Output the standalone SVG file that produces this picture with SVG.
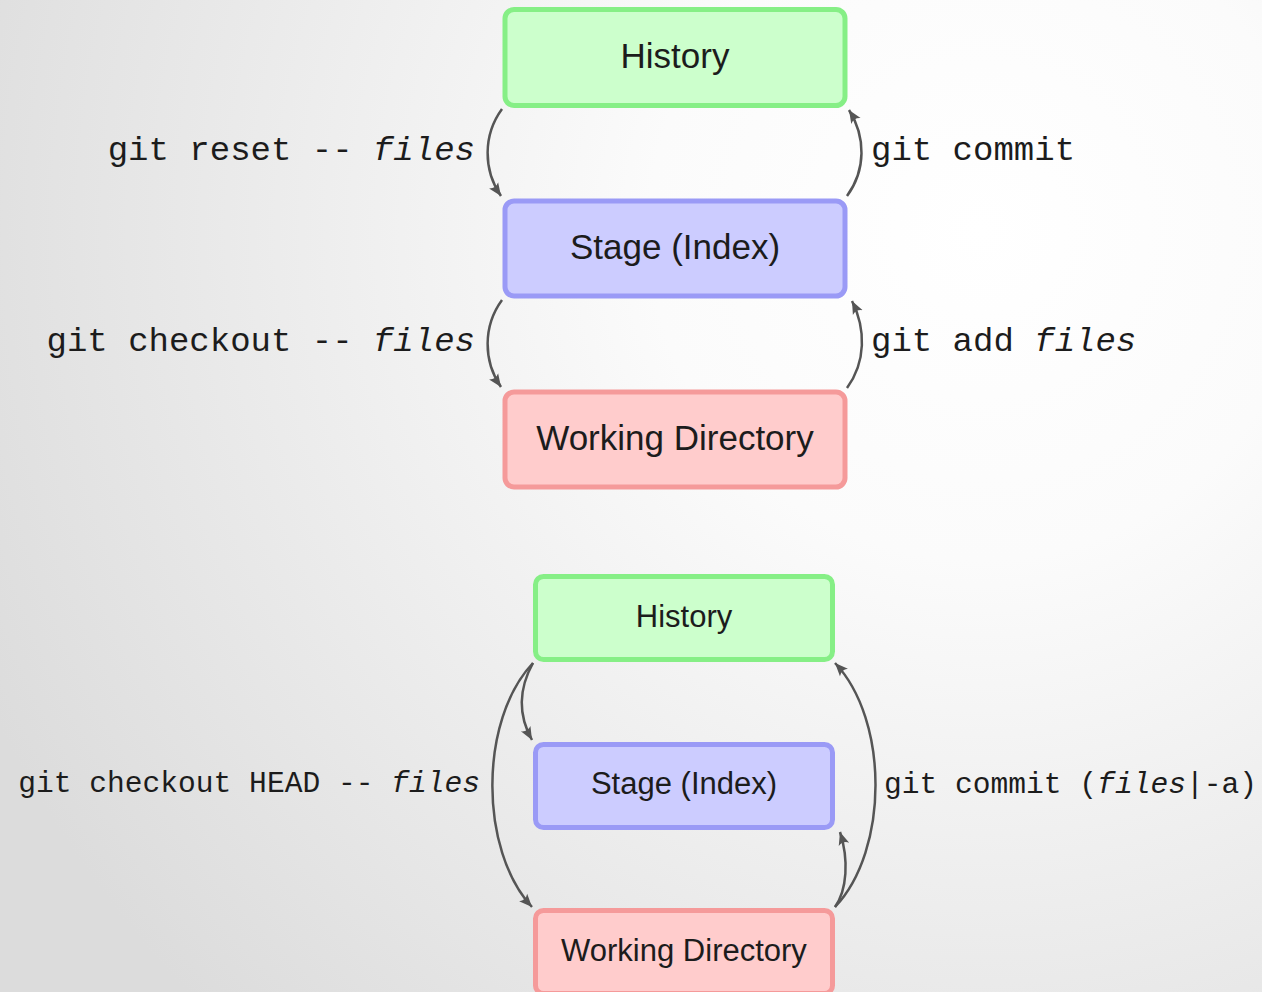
<svg xmlns="http://www.w3.org/2000/svg" width="1262" height="992" viewBox="0 0 1262 992">
<defs>
<radialGradient id="bg" gradientUnits="userSpaceOnUse" cx="980" cy="230" r="1100">
<stop offset="0" stop-color="#ffffff"/>
<stop offset="0.3" stop-color="#fbfbfb"/>
<stop offset="1" stop-color="#dcdcdc"/>
</radialGradient>
<marker id="ah" markerUnits="userSpaceOnUse" markerWidth="16" markerHeight="14" refX="13" refY="7" orient="auto">
<path d="M0,1.5 L13,7 L0,12.5 Q4,7 0,1.5 Z" fill="#555555"/>
</marker>
<style>
.box{stroke-width:5}
.green{fill:#ccffcc;stroke:#86ef86}
.blue{fill:#ccccff;stroke:#9a9af6}
.red{fill:#ffcccc;stroke:#f59a9a}
.lbl{font-family:"Liberation Sans",Arial,sans-serif;fill:#1c1c1c;text-anchor:middle}
.big{font-size:35px}
.small{font-size:31px}
.cmd{font-family:"Liberation Mono","Courier New",monospace;fill:#1c1c1c}
.c1{font-size:34px}
.c2{font-size:29.6px}
.it{font-style:italic}
.arr{fill:none;stroke:#555555;stroke-width:2.5;marker-end:url(#ah)}
</style>
</defs>
<rect x="0" y="0" width="1262" height="992" fill="url(#bg)"/>

<g id="top-history"><rect class="box green" x="505" y="9.5" width="340" height="96" rx="9"/><text class="lbl big" x="675" y="68">History</text></g>
<g id="top-stage"><rect class="box blue" x="505" y="201" width="340" height="95" rx="9"/><text class="lbl big" x="675" y="259">Stage (Index)</text></g>
<g id="top-working"><rect class="box red" x="505" y="392" width="340" height="95" rx="9"/><text class="lbl big" x="675" y="450">Working Directory</text></g>

<g id="bottom-history"><rect class="box green" x="535.5" y="576.5" width="297" height="83" rx="8"/><text class="lbl small" x="684" y="627">History</text></g>
<g id="bottom-stage"><rect class="box blue" x="535.5" y="744.5" width="297" height="83" rx="8"/><text class="lbl small" x="684" y="794">Stage (Index)</text></g>
<g id="bottom-working"><rect class="box red" x="535.5" y="910.5" width="297" height="83" rx="8"/><text class="lbl small" x="684" y="961">Working Directory</text></g>

<g id="connectors">
<path class="arr" d="M502,109 C483,135 483,170 501,196"/>
<path class="arr" d="M847,196 C866,170 866,137 849,110"/>
<path class="arr" d="M502,300 C483,326 483,361 501,387"/>
<path class="arr" d="M847,388 C866,362 866,329 852,301"/>
<path class="arr" d="M533,663 C518,690 518,715 532,740"/>
<path class="arr" d="M533,663 C479,720 479,850 532,907"/>
<path class="arr" d="M835,907 C847,890 849,860 840,832"/>
<path class="arr" d="M835,907 C889,850 889,720 835,663"/>
</g>

<g id="labels">
<text class="cmd c1" x="475" y="160" text-anchor="end">git reset -- <tspan class="it">files</tspan></text>
<text class="cmd c1" x="475" y="351" text-anchor="end">git checkout -- <tspan class="it">files</tspan></text>
<text class="cmd c1" x="871" y="160">git commit</text>
<text class="cmd c1" x="871" y="351">git add <tspan class="it">files</tspan></text>
<text class="cmd c2" x="480" y="792" text-anchor="end">git checkout HEAD -- <tspan class="it">files</tspan></text>
<text class="cmd c2" x="884" y="793">git commit (<tspan class="it">files</tspan>|-a)</text>
</g>
</svg>
